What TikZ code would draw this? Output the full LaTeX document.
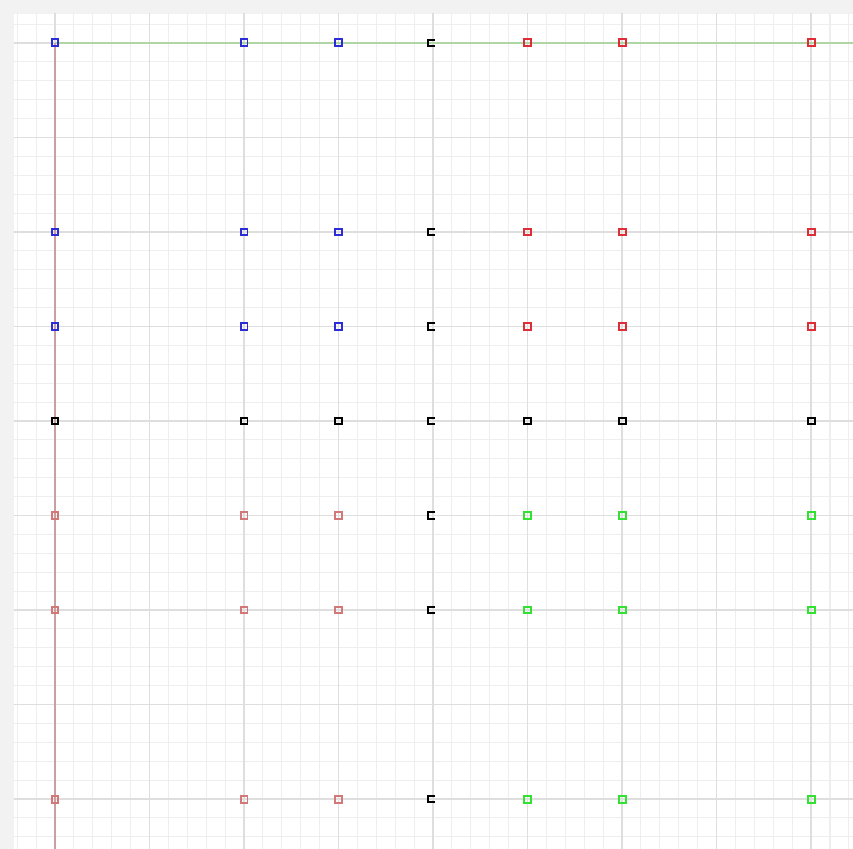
\documentclass[tikz,border=0pt]{standalone}
\usetikzlibrary{positioning}
\definecolor{gridminor}{RGB}{238,238,238}
\definecolor{gridmajor}{RGB}{222,222,222}
\definecolor{axisgreen}{RGB}{175,215,165}
\definecolor{axisbrown}{RGB}{200,160,160}
\definecolor{mkblue}{RGB}{45,45,215}
\definecolor{mkred}{RGB}{222,45,55}
\definecolor{mkrose}{RGB}{210,120,120}
\definecolor{mkgreen}{RGB}{50,225,50}

\begin{document}
\begin{tikzpicture}[mk/.style={draw=#1,line width=0.6pt,minimum size=2.1pt,inner sep=0pt,outer sep=0pt}]
  \useasboundingbox (-0.582,0.455) rectangle (8.444,-8.529);
  \fill[black!5] (-0.582,0.455) rectangle (8.444,-8.529);
  \fill[white] (-0.434,0.307) rectangle (8.444,-8.529);
  % grid
  \begin{scope}
    \clip (-0.434,0.307) rectangle (8.444,-8.529);
    \draw[gridminor,line width=0.35pt,step=0.2] (-0.6,-8.6) grid (8.6,0.4);
    \draw[gridmajor,line width=0.4pt,step=1] (-0.6,-8.6) grid (8.6,0.4);
  \end{scope}
  \coordinate (o) at (0,0);
  \coordinate (xend) at (8.444,0);
  \coordinate (yend) at (0,-8.529);
  \draw[axisgreen,line width=0.4pt] (o) -- (xend);
  \draw[axisbrown,line width=0.4pt] (o) -- (yend);
  % markers
  \foreach \c in {0,2,3} \foreach \r in {0,2,3} \node[mk=mkblue] (m\c\r) at (\c,-\r) {};
  \foreach \c in {5,6,8} \foreach \r in {0,2,3} \node[mk=mkred] (m\c\r) at (\c,-\r) {};
  \foreach \c in {0,2,3,5,6,8} \node[mk=black] (m\c4) at (\c,-4) {};
  \foreach \c in {0,2,3} \foreach \r in {5,6,8} \node[mk=mkrose] (m\c\r) at (\c,-\r) {};
  \foreach \c in {5,6,8} \foreach \r in {5,6,8} \node[mk=mkgreen] (m\c\r) at (\c,-\r) {};
  \foreach \r in {0,2,3,4,5,6,8} {
    \coordinate (c\r) at (3.985,-\r);
    \draw[black,line width=0.6pt] ([shift={(0.035,0.035)}]c\r) -| ([shift={(-0.035,-0.035)}]c\r) -- ([shift={(0.035,-0.035)}]c\r);
  }
\end{tikzpicture}
\end{document}
